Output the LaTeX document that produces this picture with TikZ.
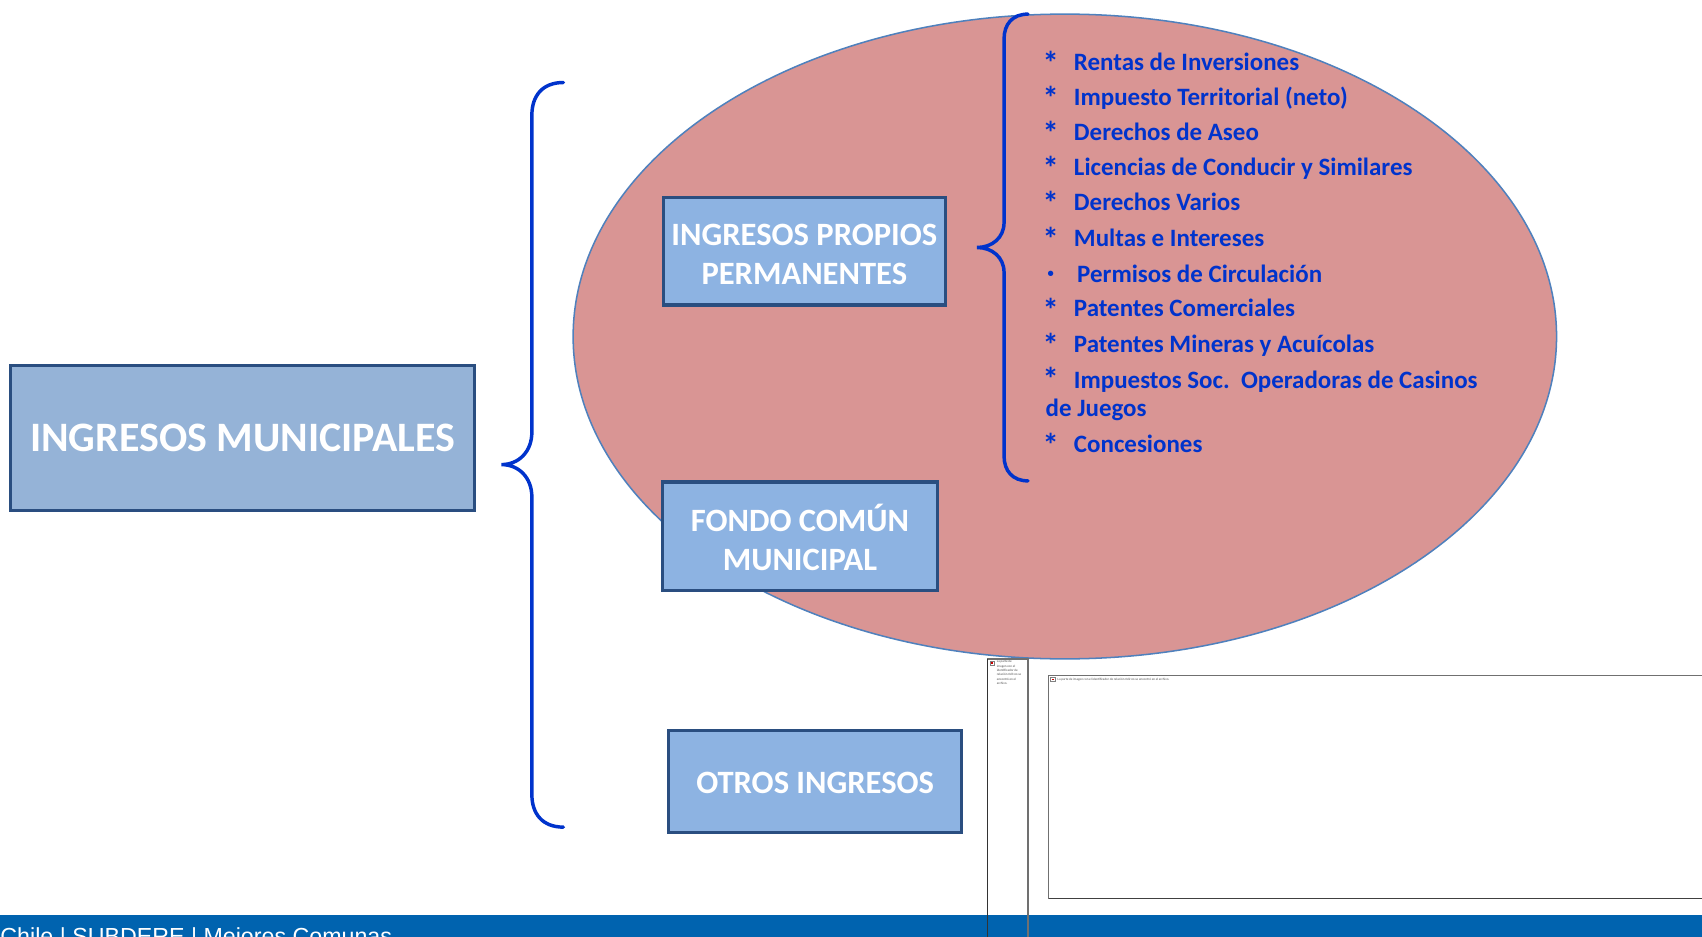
\documentclass[tikz,border=0pt]{standalone}
\usepackage{fontspec}
\setmainfont{Carlito}
\newfontfamily\footfont{Liberation Sans}
\newfontfamily\bulletfont{DejaVu Sans}
\definecolor{bracecol}{HTML}{0033CC}
\definecolor{listcol}{HTML}{0033CC}
\definecolor{ellfill}{HTML}{D99594}
\definecolor{elldraw}{HTML}{4F81BD}
\definecolor{mainfill}{HTML}{95B3D7}
\definecolor{subfill}{HTML}{8DB3E2}
\definecolor{boxdraw}{HTML}{2A4E80}
\definecolor{barcol}{HTML}{0063AF}
\definecolor{phgray}{HTML}{707070}
\tikzset{
  mainbox/.style={draw=boxdraw, line width=1.5pt, fill=mainfill, text=white,
    font=\bfseries\fontsize{19.3}{23}\selectfont, align=center, inner sep=0pt},
  subbox/.style={draw=boxdraw, line width=1.5pt, fill=subfill, inner sep=0pt},
  subtext/.style={text=white, font=\bfseries\fontsize{15}{18}\selectfont, align=center, inner sep=0pt},
  brace/.style={draw=bracecol, line width=1.6pt, line cap=round},
  item/.style={anchor=base west, inner sep=0pt, text=listcol,
    font=\bfseries\fontsize{11.5}{14}\selectfont},
  star/.style={anchor=center, inner sep=0pt, text=listcol,
    font=\bfseries\fontsize{15}{16}\selectfont},
  phbox/.style={draw=phgray, line width=0.6pt},
  phtext/.style={anchor=north west, inner sep=0pt, text=black!70,
    font=\fontsize{1.5}{2}\selectfont, align=left},
}
\begin{document}
\begin{tikzpicture}[x=0.5pt,y=-0.5pt]
\useasboundingbox (0,0) rectangle (1568,863);
\clip (0,0) rectangle (1568,863);
\fill[white] (0,0) rectangle (1568,863);

% ellipse
\draw[fill=ellfill, draw=elldraw, line width=0.7pt] (981,310) ellipse [x radius=453, y radius=297];

% main box
\node[mainbox, minimum width=213.5pt, minimum height=66.5pt] (main) at (223.5,403.5) {INGRESOS MUNICIPALES};

% big brace
\draw[brace] (519,76) .. controls (500,76) and (490,88) .. (490,106) -- (490,398)
  .. controls (490,416) and (478,428) .. (462,428)
  .. controls (478,428) and (490,440) .. (490,458) -- (490,732)
  .. controls (490,750) and (500,762) .. (519,762);

% sub boxes
\node[subbox, minimum width=130pt, minimum height=49.5pt] (ipp) at (741,231.5) {};
\node[subtext] (ippt) at (741,234) {INGRESOS PROPIOS\\PERMANENTES};
\node[subbox, minimum width=127pt, minimum height=50pt] (fcm) at (737,494) {};
\node[subtext] (fcmt) at (737,495) {FONDO COMÚN\\MUNICIPAL};
\node[subbox, minimum width=135pt, minimum height=47pt] (oi) at (751,720) {};
\node[subtext] (oit) at (751,721) {OTROS INGRESOS};

% small brace
\draw[brace] (947,13) .. controls (933,13) and (925,22) .. (925,36) -- (925,205)
  .. controls (925,219) and (914,228) .. (900,228)
  .. controls (914,228) and (925,237) .. (925,251) -- (925,420)
  .. controls (925,434) and (933,443) .. (947,443);

% list
\node[star] (s1) at (968,58) {*};  \node[item] (t1) at (989,65) {Rentas de Inversiones};
\node[star] (s2) at (968,90) {*}; \node[item] (t2) at (989,97) {Impuesto Territorial (neto)};
\node[star] (s3) at (968,122) {*}; \node[item] (t3) at (989,129) {Derechos de Aseo};
\node[star] (s4) at (968,155) {*}; \node[item] (t4) at (989,162) {Licencias de Conducir y Similares};
\node[star] (s5) at (968,187) {*}; \node[item] (t5) at (989,194) {Derechos Varios};
\node[star] (s6) at (968,220) {*}; \node[item] (t6) at (989,227) {Multas e Intereses};
\node[star] (s7) at (968,254) {\bulletfont\fontsize{7}{8}\selectfont •}; \node[item] (t7) at (992,260) {Permisos de Circulación};
\node[star] (s8) at (968,285) {*}; \node[item] (t8) at (989,292) {Patentes Comerciales};
\node[star] (s9) at (968,318) {*}; \node[item] (t9) at (989,325) {Patentes Mineras y Acuícolas};
\node[star] (s10) at (968,349) {*}; \node[item] (t10) at (989,358) {Impuestos Soc.\ \ Operadoras de Casinos};
\node[item] (t10b) at (963,384) {de Juegos};
\node[star] (s11) at (968,410) {*}; \node[item] (t11) at (989,417) {Concesiones};

% footer bar
\fill[barcol] (0,843) rectangle (1568,863);
\node[anchor=base west, inner sep=0pt, text=white, font=\footfont\fontsize{10.7}{12}\selectfont] (foot) at (0,870) {Chile | SUBDERE | Mejores Comunas};

% image placeholders
\draw[phbox] (910,607) rectangle (947,870);
\draw[draw=black!80, line width=0.6pt] (910,607) -- (910,870);
\draw[phbox] (966,622) rectangle (1580,828);
\draw[draw=black!75, line width=0.6pt] (966,828) -- (1580,828);
\draw[draw=gray, line width=0.3pt, fill=white] (912,609) rectangle (916,613);
\fill[red!80!black] (913.3,610.3) rectangle (914.7,611.7);
\draw[draw=gray, line width=0.3pt, fill=white] (968,624) rectangle (972,628);
\fill[red!80!black] (969.3,625.3) rectangle (970.7,626.7);
\node[phtext] (ph1) at (918,608) {La parte de\\imagen con el\\identificador de\\relación rId3 no se\\encontró en el\\archivo.};
\node[phtext] (ph2) at (974,624) {La parte de imagen con el identificador de relación rId2 no se encontró en el archivo.};
\end{tikzpicture}
\end{document}
